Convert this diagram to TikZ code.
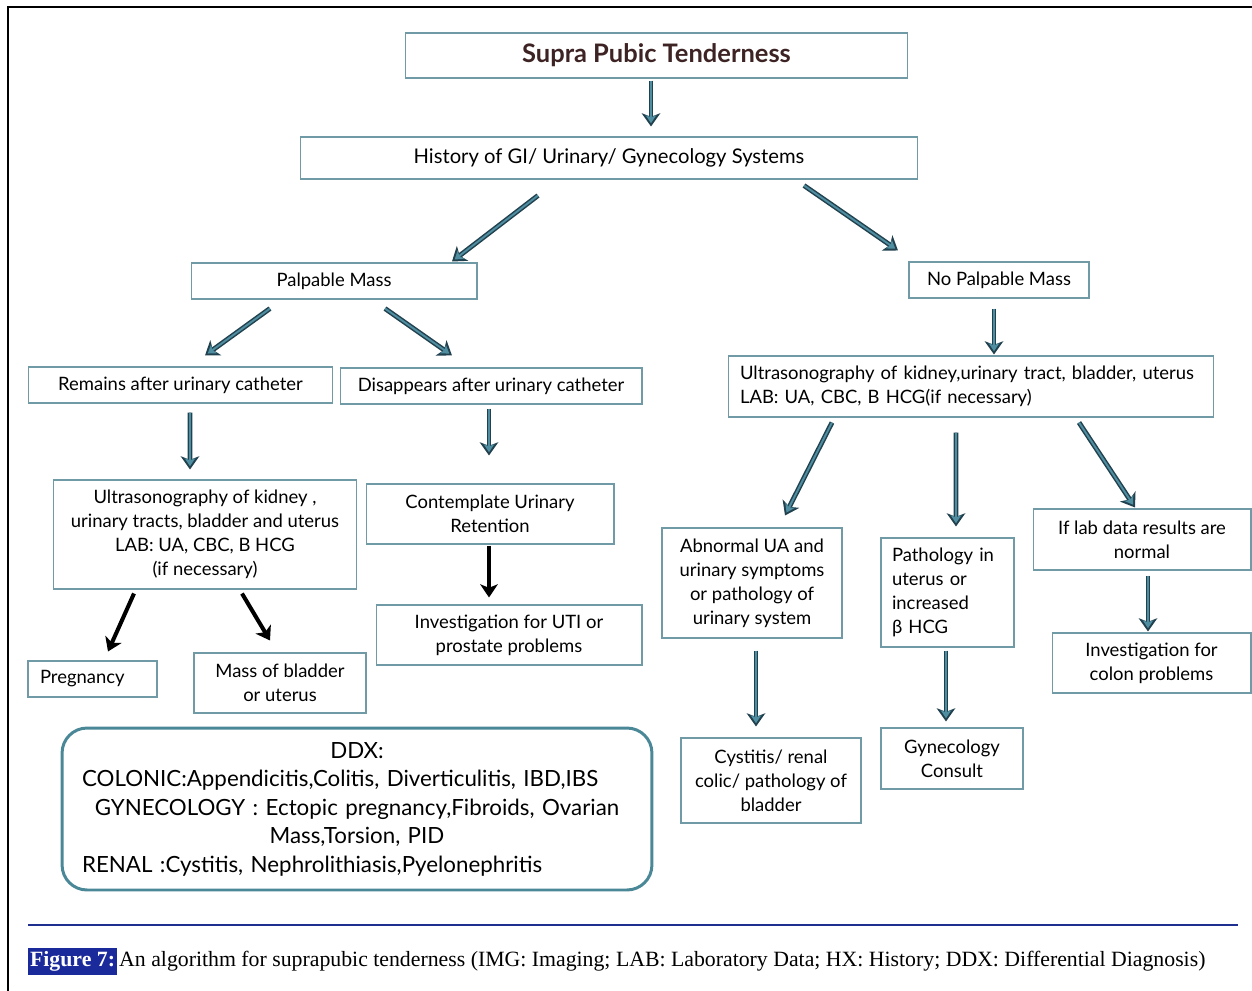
\documentclass[tikz,border=0pt]{standalone}
\usepackage{fontspec}
\setmainfont{Lato}
\newfontfamily\capfont{Liberation Serif}
\usetikzlibrary{arrows.meta}
\definecolor{boxline}{HTML}{6F9AA6}
\definecolor{ddxline}{HTML}{4A8898}
\definecolor{arrowdark}{HTML}{22414F}
\definecolor{arrowteal}{HTML}{4F8EA0}
\definecolor{titlecol}{HTML}{3D2323}
\definecolor{rulecol}{HTML}{1F2F8F}
\definecolor{figblue}{HTML}{1A2A9A}
\begin{document}
\begin{tikzpicture}[x=0.02cm,y=-0.02cm,
    box/.style={draw=boxline,line width=0.6pt,inner sep=0pt,align=center,font=\fontsize{10.5}{13.6}\selectfont},
    arr/.style={draw=arrowdark,line width=2.8pt,-{Stealth[length=7.5pt,width=10.5pt,inset=2pt]},
      postaction={draw=arrowteal,line width=1.1pt,-{Stealth[length=4.5pt,width=6pt,inset=1.2pt]},shorten >=1.9pt}},
    blk/.style={draw=black,line width=2.3pt,-{Stealth[length=7.5pt,width=10pt,inset=2pt]}}]
    \useasboundingbox (0,0) rectangle (1252,991);
    %% Frame
    \draw[line width=1.1pt] (1252,7) -- (8,7) -- (8,991);
    %% Top
    \node[box,minimum width=10.06cm,minimum height=0.9cm,text=titlecol,font=\fontsize{14.5}{17}\selectfont\bfseries] (title) at (656.5,55.5) {Supra Pubic Tenderness};
    \node[box,minimum width=12.36cm,minimum height=0.84cm,font=\fontsize{11.5}{14}\selectfont] (hist) at (609,158) {History of GI/ Urinary/ Gynecology Systems};
    \node[box,minimum width=5.72cm,minimum height=0.72cm] (palp) at (334,281) {Palpable Mass};
    \node[box,minimum width=3.6cm,minimum height=0.72cm] (nopalp) at (999,280) {No Palpable Mass};
    %% Left branch
    \node[box,minimum width=6.1cm,minimum height=0.72cm] (remain) at (180.5,385) {Remains after urinary catheter};
    \node[box,minimum width=6.04cm,minimum height=0.72cm] (disap) at (491,386) {Disappears after urinary catheter};
    \node[box,minimum width=6.08cm,minimum height=2.18cm] (usL) at (205,534.5) {Ultrasonography of kidney ,\\ urinary tracts, bladder and uterus\\ LAB: UA, CBC, B HCG\\ (if necessary)};
    \node[box,minimum width=4.96cm,minimum height=1.2cm] (contemp) at (490,514) {Contemplate Urinary\\ Retention};
    \node[box,minimum width=5.32cm,minimum height=1.2cm] (invuti) at (509,635) {Investigation for UTI or\\ prostate problems};
    \node[box,align=left,text width=2.1cm,inner xsep=0.24cm,minimum height=0.72cm] (preg) at (92.5,679) {Pregnancy};
    \node[box,minimum width=3.44cm,minimum height=1.2cm] (massb) at (280,683) {Mass of bladder\\ or uterus};
    %% DDX
    \node[draw=ddxline,line width=1.7pt,rounded corners=0.5cm,minimum height=3.24cm,text width=11cm,inner xsep=0.4cm,align=left,font=\fontsize{12.7}{16.2}\selectfont] (ddx) at (357,809) {{\centering DDX:\par}COLONIC:Appendicitis,Colitis, Diverticulitis, IBD,IBS\par{\centering GYNECOLOGY : Ectopic pregnancy,Fibroids, Ovarian\\ Mass,Torsion, PID\par}RENAL :Cystitis, Nephrolithiasis,Pyelonephritis};
    %% Right branch
    \node[box,align=left,text width=9.24cm,inner xsep=0.24cm,minimum height=1.22cm] (usR) at (971,386.5) {Ultrasonography of kidney,urinary tract, bladder, uterus\\ LAB: UA, CBC, B HCG(if necessary)};
    \node[box,minimum width=3.6cm,minimum height=2.2cm] (abn) at (752,583) {Abnormal UA and\\ urinary symptoms\\ or pathology of\\ urinary system};
    \node[box,align=left,text width=2.22cm,inner xsep=0.22cm,minimum height=2.18cm] (path) at (947.5,592.5) {Pathology in\\ uterus or\\ increased\\ β HCG};
    \node[box,minimum width=4.36cm,minimum height=1.22cm] (iflab) at (1142,539.5) {If lab data results are\\ normal};
    \node[box,minimum width=3.98cm,minimum height=1.2cm] (invcol) at (1151.5,663) {Investigation for\\ colon problems};
    \node[box,minimum width=3.6cm,minimum height=1.7cm] (cyst) at (771,780.5) {Cystitis/ renal\\ colic/ pathology of\\ bladder};
    \node[box,minimum width=2.84cm,minimum height=1.22cm] (gyn) at (952,758.5) {Gynecology\\ Consult};
    %% Arrows
    \draw[arr] ([shift={(-5.5,2)}]title.south) -- ([shift={(42,-10)}]hist.north);
    \draw[arr] ([shift={(-71,16)}]hist.south) -- ([shift={(118,-1)}]palp.north);
    \draw[arr] ([shift={(195,6)}]hist.south) -- ([shift={(-101,-11)}]nopalp.north);
    \draw[arr] ([shift={(-64,9)}]palp.south) -- ([shift={(24.5,-11)}]remain.north);
    \draw[arr] ([shift={(51,9)}]palp.south) -- ([shift={(-39,-12)}]disap.north);
    \draw[arr] ([shift={(-5,10)}]nopalp.south) -- ([shift={(23,-1)}]usR.north);
    \draw[arr] ([shift={(9.5,9)}]remain.south) -- ([shift={(-15,-10)}]usL.north);
    \draw[arr] ([shift={(-2,4)}]disap.south) -- ([shift={(-1,-28)}]contemp.north);
    \draw[blk] ([shift={(-71,4)}]usL.south) -- ([shift={(15.5,-9)}]preg.north);
    \draw[blk] ([shift={(37,4)}]usL.south) -- ([shift={(-10,-12)}]massb.north);
    \draw[blk] ([shift={(-1,1)}]contemp.south) -- ([shift={(-20,-7)}]invuti.north);
    \draw[arr] ([shift={(-139,5)}]usR.south) -- ([shift={(33,-12)}]abn.north);
    \draw[arr] ([shift={(-15,15)}]usR.south) -- ([shift={(8.5,-11)}]path.north);
    \draw[arr] ([shift={(108,5)}]usR.south) -- ([shift={(-7,-1)}]iflab.north);
    \draw[arr] ([shift={(6,5)}]iflab.south) -- ([shift={(-3.5,-1)}]invcol.north);
    \draw[arr] ([shift={(4,12)}]abn.south) -- ([shift={(-15,-11)}]cyst.north);
    \draw[arr] ([shift={(-1.5,3)}]path.south) -- ([shift={(-6,-6)}]gyn.north);
    %% Caption
    \draw[rulecol,line width=1.2pt] (28,925) -- (1238,925);
    \node[fill=figblue,text=white,font=\capfont\bfseries\fontsize{12.4}{14}\selectfont,inner sep=1pt,minimum height=0.54cm,anchor=west] (fig) at (28,961.5) {Figure 7:};
    \node[anchor=west,font=\capfont\fontsize{12.4}{14}\selectfont,inner sep=1pt] (cap) at (fig.east) {An algorithm for suprapubic tenderness (IMG: Imaging; LAB: Laboratory Data; HX: History; DDX: Differential Diagnosis)};
\end{tikzpicture}
\end{document}
